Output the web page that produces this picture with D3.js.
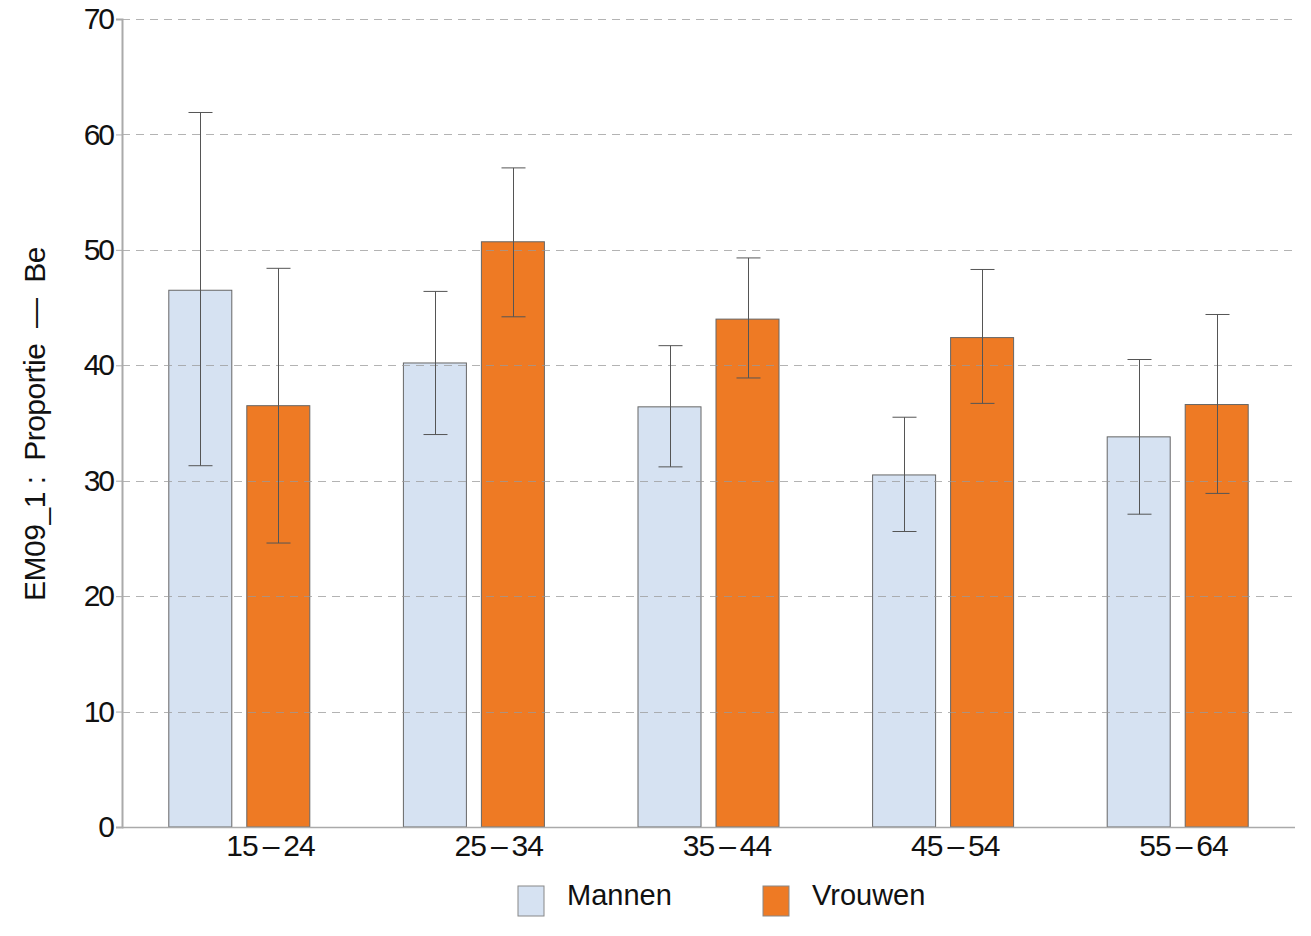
<!DOCTYPE html>
<html><head><meta charset="utf-8">
<script src="https://cdn.jsdelivr.net/npm/d3@7"></script>
<style>
body{margin:0;background:#fff;}
text{font-family:"Liberation Sans",Arial,sans-serif;fill:#111;}
</style></head>
<body><svg id="c" width="1311" height="936"></svg>
<script>
const categories = ["15\u2009–\u200924","25\u2009–\u200934","35\u2009–\u200944","45\u2009–\u200954","55\u2009–\u200964"];
const series = ["Mannen","Vrouwen"];
const mannen = [46.5, 40.2, 36.4, 30.5, 33.8];
const vrouwen = [36.5, 50.7, 44.0, 42.4, 36.6];
const mannenLow = [31.3, 34.0, 31.2, 25.6, 27.1];
const mannenHigh = [61.9, 46.4, 41.7, 35.5, 40.5];
const vrouwenLow = [24.6, 44.2, 38.9, 36.7, 28.9];
const vrouwenHigh = [48.4, 57.1, 49.3, 48.3, 44.4];
const yTicks = [0,10,20,30,40,50,60,70];
const colors = {"Mannen":"#d6e2f2","Vrouwen":"#ee7a24"};

const svg = d3.select("#c");
const L=122, R=1295, T=19, B=827;
const y = d3.scaleLinear().domain([0,70]).range([B,T]);
const x = d3.scaleBand().domain(categories).range([L,R]).paddingInner(0).paddingOuter(0);
const xs = d3.scaleBand().domain(series).range([0,141]).paddingInner(15/78);
const groupOff = (x.bandwidth()-141)/2;
const xl = d3.scalePoint().domain(categories).range([270, 1183]);

const data = [];
categories.forEach((c,i)=>{
  data.push({c, s:"Mannen", v:mannen[i], lo:mannenLow[i], hi:mannenHigh[i]});
  data.push({c, s:"Vrouwen", v:vrouwen[i], lo:vrouwenLow[i], hi:vrouwenHigh[i]});
});

// bars
svg.append("g").selectAll("rect").data(data).join("rect")
  .attr("x", d=>x(d.c)+groupOff+xs(d.s))
  .attr("y", d=>y(d.v))
  .attr("width", xs.bandwidth())
  .attr("height", d=>y(0)-y(d.v))
  .attr("fill", d=>colors[d.s])
  .attr("stroke","#666").attr("stroke-width",1);

// grid (drawn over bars)
svg.append("g").selectAll("line").data(yTicks.filter(t=>t>0)).join("line")
  .attr("x1",L).attr("x2",R)
  .attr("y1",d=>Math.round(y(d))+0.5).attr("y2",d=>Math.round(y(d))+0.5)
  .attr("stroke","#999").attr("stroke-opacity",0.75).attr("stroke-width",1)
  .attr("stroke-dasharray","8,6");

// error bars
const eb = svg.append("g").attr("stroke","#555").attr("stroke-width",1);
data.forEach(d=>{
  const cx = Math.round(x(d.c)+groupOff+xs(d.s)+xs.bandwidth()/2)+0.5;
  eb.append("line").attr("x1",cx).attr("x2",cx).attr("y1",y(d.hi)).attr("y2",y(d.lo));
  eb.append("line").attr("x1",cx-12).attr("x2",cx+12).attr("y1",y(d.hi)).attr("y2",y(d.hi));
  eb.append("line").attr("x1",cx-12).attr("x2",cx+12).attr("y1",y(d.lo)).attr("y2",y(d.lo));
});

// y axis
const yAxis = svg.append("g").attr("transform",`translate(${L},0)`)
  .call(d3.axisLeft(y).tickValues(yTicks).tickSize(6).tickPadding(3));
yAxis.select(".domain").attr("stroke","#aaa").attr("stroke-width",2);
yAxis.selectAll(".tick line").attr("stroke","#aaa");
yAxis.selectAll(".tick text").attr("font-size",30).attr("letter-spacing","-2px")
  .attr("font-family","Liberation Sans, Arial, sans-serif").attr("fill","#111");

// x axis line
svg.append("line").attr("x1",L).attr("x2",R).attr("y1",B+0.5).attr("y2",B+0.5)
  .attr("stroke","#aaa").attr("stroke-width",1.5);

// x labels
const xAxis = svg.append("g").attr("transform",`translate(0,${B})`)
  .call(d3.axisBottom(xl).tickSize(0).tickPadding(8));
xAxis.select(".domain").remove();
xAxis.selectAll(".tick text").attr("font-size",30).attr("letter-spacing","-1px")
  .attr("font-family","Liberation Sans, Arial, sans-serif").attr("fill","#111");

// y label
svg.append("text").attr("transform","translate(45,424) rotate(-90)")
  .attr("text-anchor","middle").attr("font-size",30).attr("letter-spacing","-0.5px")
  .attr("xml:space","preserve")
  .text("EM09_1 :  Proportie  —  Be");

// legend
const leg = svg.append("g");
const legX = {"Mannen":518, "Vrouwen":763};
series.forEach(s=>{
  leg.append("rect").attr("x",legX[s]).attr("y",886).attr("width",26).attr("height",30)
    .attr("fill",colors[s]).attr("stroke","#888").attr("stroke-width",1);
  leg.append("text").attr("x",legX[s]+49).attr("y",905).attr("font-size",29)
    .text(s);
});
</script></body></html>
